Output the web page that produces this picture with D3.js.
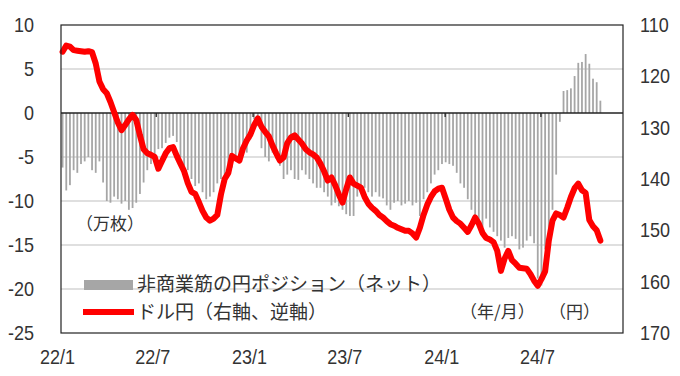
<!DOCTYPE html>
<html>
<head>
<meta charset="utf-8">
<script src="https://cdn.jsdelivr.net/npm/d3@7"></script>
<style>
  body { margin: 0; background: #fff; }
  text { fill: #333; }
</style>
</head>
<body>
<div id="container"></div>
<script>
/**
 * CONSTANTS AND DATA
 * */
const width = 680,
  height = 376;

// weekly series, first week = 2022/1/4
const firstWeek = "2022-01-04";

// 非商業筋の円ポジション（ネット）, 万枚
const positions = [
  -6.2, -8.8, -8.2, -6.5, -6.8, -5.8, -5.5, -5.0, -6.5, -6.8,
  -5.5, -7.9, -10.0, -10.2, -9.5, -9.8, -10.3, -10.0, -11.0, -10.8,
  -10.2, -9.2, -7.9, -6.5, -5.8, -5.5, -4.1, -4.0, -3.4, -2.8,
  -2.6, -3.3, -5.0, -6.0, -6.5, -7.5, -8.3, -8.0, -9.0, -9.8,
  -9.5, -9.0, -8.0, -7.5, -7.0, -6.5, -6.2, -5.5, -5.0, -4.8,
  -4.5, -3.0, -0.7, -1.5, -4.0, -5.0, -5.5, -4.5, -5.2, -6.0,
  -7.5, -7.0, -6.5, -7.5, -7.6, -6.5, -7.0, -7.5, -8.0, -8.5,
  -8.5, -9.0, -9.5, -10.5, -10.2, -10.6, -11.0, -11.5, -11.7, -11.7,
  -9.5, -9.0, -8.5, -9.0, -9.5, -9.0, -9.5, -9.7, -10.5, -11.0,
  -10.2, -10.0, -10.5, -10.3, -10.0, -10.5, -10.2, -11.7, -9.8, -9.0,
  -8.0, -7.0, -6.5, -5.8, -5.6, -5.8, -6.0, -6.8, -8.0, -8.5,
  -9.8, -11.0, -12.0, -12.5, -13.0, -12.0, -13.0, -13.5, -14.0, -14.5,
  -15.3, -14.2, -14.0, -14.3, -15.5, -15.3, -14.5, -14.0, -14.8, -18.8,
  -19.6, -15.5, -14.5, -11.0, -7.0, -1.0, 2.5, 2.6, 2.8, 4.2,
  5.7, 5.8, 6.7, 5.6, 3.9, 3.5, 1.4
];

// ドル円（右軸、逆軸）, 円
const usdjpy = [
  115.2, 114.0, 114.2, 114.9, 115.0, 115.1, 115.2, 115.1, 115.3, 117.5,
  121.0, 122.5, 123.3, 125.0, 127.0, 129.0, 130.5, 129.5, 128.4, 127.5,
  128.5, 131.5, 134.2, 135.0, 135.3, 135.7, 138.0, 136.5, 135.0, 134.0,
  133.8, 135.5, 137.0, 138.5, 140.8, 142.5, 142.9, 144.5, 146.2, 147.5,
  148.1, 147.7, 147.0, 143.0, 140.0, 138.8, 135.5, 136.0, 136.4, 134.0,
  132.5, 131.3, 129.5, 128.2, 129.8, 130.8, 131.7, 133.5, 135.0, 136.4,
  135.8, 133.0, 131.9, 131.5, 132.3, 133.1, 134.2, 134.8, 135.2, 135.8,
  137.0, 138.5, 140.3, 139.7, 141.2, 143.0, 144.6, 142.0, 139.7, 140.9,
  141.3, 141.7, 143.5, 144.8, 145.6, 146.2, 147.0, 147.5, 148.2, 148.8,
  149.1, 149.5, 149.8, 150.1, 150.1, 150.6, 151.4, 149.5, 147.0, 145.0,
  143.5, 142.4, 141.9, 141.7, 143.8, 146.0, 147.5, 148.2, 148.7, 149.5,
  150.3, 149.0, 147.5, 148.7, 150.5, 151.5, 151.8, 152.3, 154.0, 157.9,
  155.5, 154.0, 155.8, 156.5, 157.3, 157.4, 157.5, 158.5, 159.8, 160.8,
  159.5, 158.0, 152.0, 148.1, 146.7, 147.0, 147.5, 145.6, 143.5, 141.8,
  140.9, 142.2, 142.7, 148.0, 149.2, 150.0, 152.0
];

const leftTicks = [10, 5, 0, -5, -10, -15, -20, -25];
const rightTicks = [110, 120, 130, 140, 150, 160, 170];
const xTickDates = ["2022-01-01", "2022-07-01", "2023-01-01", "2023-07-01", "2024-01-01", "2024-07-01"];
const xTickLabels = ["22/1", "22/7", "23/1", "23/7", "24/1", "24/7"];

const legendLabels = ["非商業筋の円ポジション（ネット）", "ドル円（右軸、逆軸）"];

/**
 * SCALES
 * */
const parse = d3.timeParse("%Y-%m-%d");
const start = parse(firstWeek);
const dates = positions.map((d, i) => d3.timeDay.offset(start, i * 7));

const x = d3.scaleTime()
  .domain([parse("2022-01-01"), parse("2024-12-04")])
  .range([61, 623]);

const yLeft = d3.scaleLinear().domain([-25, 10]).range([333, 25]);
const yRight = d3.scaleLinear().domain([170, 110]).range([333, 25]);

const svg = d3.select("#container")
  .append("svg")
  .attr("width", width)
  .attr("height", height)
  .style("font-family", "'Liberation Sans', Arial, sans-serif");

const numFont = 20;
const squeeze = 0.9; // the original digits are a bit narrow

// gridlines
svg.append("g")
  .selectAll("line")
  .data(leftTicks.filter(d => d !== 0 && d !== 10 && d !== -25))
  .join("line")
  .attr("x1", 61).attr("x2", 623)
  .attr("y1", d => yLeft(d)).attr("y2", d => yLeft(d))
  .attr("stroke", "#c0c0c0")
  .attr("stroke-width", 1.2);

// bars
svg.append("g")
  .selectAll("rect")
  .data(positions)
  .join("rect")
  .attr("x", (d, i) => x(dates[i]) - 0.9)
  .attr("width", 1.8)
  .attr("y", d => yLeft(Math.max(0, d)))
  .attr("height", d => Math.abs(yLeft(d) - yLeft(0)))
  .attr("fill", "#a6a6a6");

// zero line with ticks
svg.append("line")
  .attr("x1", 61).attr("x2", 623)
  .attr("y1", yLeft(0)).attr("y2", yLeft(0))
  .attr("stroke", "#222")
  .attr("stroke-width", 1.3);

svg.append("g")
  .selectAll("line")
  .data(xTickDates.slice(1))
  .join("line")
  .attr("x1", d => x(parse(d))).attr("x2", d => x(parse(d)))
  .attr("y1", yLeft(0)).attr("y2", yLeft(0) + 4)
  .attr("stroke", "#222")
  .attr("stroke-width", 1.3);

// USDJPY line
const line = d3.line()
  .x((d, i) => x(dates[i]))
  .y(d => yRight(d));

svg.append("path")
  .datum(usdjpy)
  .attr("d", line)
  .attr("fill", "none")
  .attr("stroke", "#ff0000")
  .attr("stroke-width", 6)
  .attr("stroke-linejoin", "round")
  .attr("stroke-linecap", "round");

// plot border
svg.append("rect")
  .attr("x", 61).attr("y", 25)
  .attr("width", 562).attr("height", 308)
  .attr("fill", "none")
  .attr("stroke", "#222")
  .attr("stroke-width", 1.2);

// left axis labels
svg.append("g")
  .selectAll("text")
  .data(leftTicks)
  .join("text")
  .attr("transform", d => `translate(34,${yLeft(d)}) scale(${squeeze},1)`)
  .attr("text-anchor", "end")
  .attr("dy", "0.35em")
  .attr("font-size", numFont)
  .text(d => d);

// right axis labels
svg.append("g")
  .selectAll("text")
  .data(rightTicks)
  .join("text")
  .attr("transform", d => `translate(640,${yRight(d)}) scale(${squeeze},1)`)
  .attr("dy", "0.35em")
  .attr("font-size", numFont)
  .text(d => d);

// bottom labels
svg.append("g")
  .selectAll("text")
  .data(xTickDates)
  .join("text")
  .attr("transform", d => `translate(${x(parse(d)) - 3.5},357) scale(${squeeze},1)`)
  .attr("text-anchor", "middle")
  .attr("dy", "0.35em")
  .attr("font-size", numFont)
  .text((d, i) => xTickLabels[i]);

// unit notes
const jp = "'Noto Sans CJK JP', sans-serif";

svg.append("text")
  .attr("x", 76).attr("y", 224)
  .attr("dy", "0.35em")
  .attr("font-family", jp)
  .attr("font-size", 17)
  .text("（万枚）");

svg.append("text")
  .attr("x", 460).attr("y", 312)
  .attr("dy", "0.35em")
  .attr("font-family", jp)
  .attr("font-size", 17)
  .text("（年/月）");

svg.append("text")
  .attr("x", 549).attr("y", 312)
  .attr("dy", "0.35em")
  .attr("font-family", jp)
  .attr("font-size", 17)
  .text("（円）");

// legend
const legend = svg.append("g");

legend.append("rect")
  .attr("x", 84).attr("y", 280)
  .attr("width", 49).attr("height", 10)
  .attr("fill", "#a6a6a6");

legend.append("line")
  .attr("x1", 83).attr("x2", 134)
  .attr("y1", 312).attr("y2", 312)
  .attr("stroke", "#ff0000")
  .attr("stroke-width", 6);

legend.selectAll("text")
  .data(legendLabels)
  .join("text")
  .attr("x", 137)
  .attr("y", (d, i) => i === 0 ? 284 : 312)
  .attr("dy", "0.35em")
  .attr("font-family", jp)
  .attr("font-size", 19)
  .text(d => d);
</script>
</body>
</html>
